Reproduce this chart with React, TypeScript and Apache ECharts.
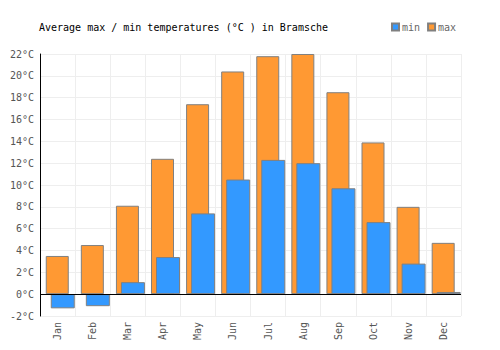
import React, { useEffect, useRef } from "react";
import * as echarts from "echarts";

const months = ["Jan", "Feb", "Mar", "Apr", "May", "Jun", "Jul", "Aug", "Sep", "Oct", "Nov", "Dec"];
const maxTemps = [3.5, 4.5, 8.1, 12.4, 17.4, 20.4, 21.8, 22.0, 18.5, 13.9, 8.0, 4.7];
const minTemps = [-1.3, -1.1, 1.1, 3.4, 7.4, 10.5, 12.3, 12.0, 9.7, 6.6, 2.8, 0.2];
const spacer = months.map(() => null);

const FONT = "DejaVu Sans Mono";

export default function App() {
  const ref = useRef<HTMLDivElement>(null);
  useEffect(() => {
    if (!ref.current) return;
    const chart = echarts.init(ref.current, undefined, { renderer: "svg" });
    chart.setOption({
      animation: false,
      title: {
        text: "Average max / min temperatures (°C ) in Bramsche",
        left: 34,
        top: 17,
        textStyle: { fontFamily: FONT, fontSize: 10, fontWeight: "normal", color: "#000" },
      },
      legend: {
        data: ["min", "max"],
        left: 386,
        top: 17,
        itemWidth: 7,
        itemHeight: 7,
        itemGap: 7,
        icon: "rect",
        textStyle: { fontFamily: FONT, fontSize: 10, color: "#666", padding: [0, 0, 0, -2] },
      },
      grid: { left: 40, right: 39, top: 54, bottom: 34, containLabel: false },
      xAxis: {
        type: "category",
        data: months,
        axisLine: { show: false, onZero: false },
        axisTick: { show: false },
        splitLine: { show: true, lineStyle: { color: "#eeeeee", width: 1 } },
        axisLabel: {
          rotate: 90,
          interval: 0,
          margin: 6,
          fontFamily: FONT,
          fontSize: 10,
          color: "#555",
        },
      },
      yAxis: {
        type: "value",
        min: -2,
        max: 22,
        interval: 2,
        axisLine: { show: true, lineStyle: { color: "#000", width: 1 } },
        axisTick: { show: false },
        splitLine: { show: true, lineStyle: { color: "#eeeeee", width: 1 } },
        axisLabel: {
          formatter: "{value}°C",
          margin: 6,
          fontFamily: FONT,
          fontSize: 10,
          color: "#555",
        },
      },
      series: [
        {
          name: "_spacer",
          type: "bar",
          data: spacer,
          barWidth: 25,
          barGap: "-78.26%",
          barCategoryGap: 0,
          silent: true,
          itemStyle: { color: "transparent" },
        },
        {
          name: "max",
          type: "bar",
          data: maxTemps,
          barWidth: 23,
          barGap: "-78.26%",
          itemStyle: { color: "#FF9933", borderColor: "#808080", borderWidth: 1 },
        },
        {
          name: "min",
          type: "bar",
          data: minTemps,
          barWidth: 24,
          barGap: "-78.26%",
          itemStyle: { color: "#3399FF", borderColor: "#808080", borderWidth: 1 },
          markLine: {
            silent: true,
            symbol: "none",
            label: { show: false },
            lineStyle: { color: "#000", width: 1, type: "solid" },
            data: [{ yAxis: 0 }],
          },
        },
      ],
    });
    return () => chart.dispose();
  }, []);
  return <div ref={ref} style={{ width: 500, height: 350, margin: -8 }} />;
}
